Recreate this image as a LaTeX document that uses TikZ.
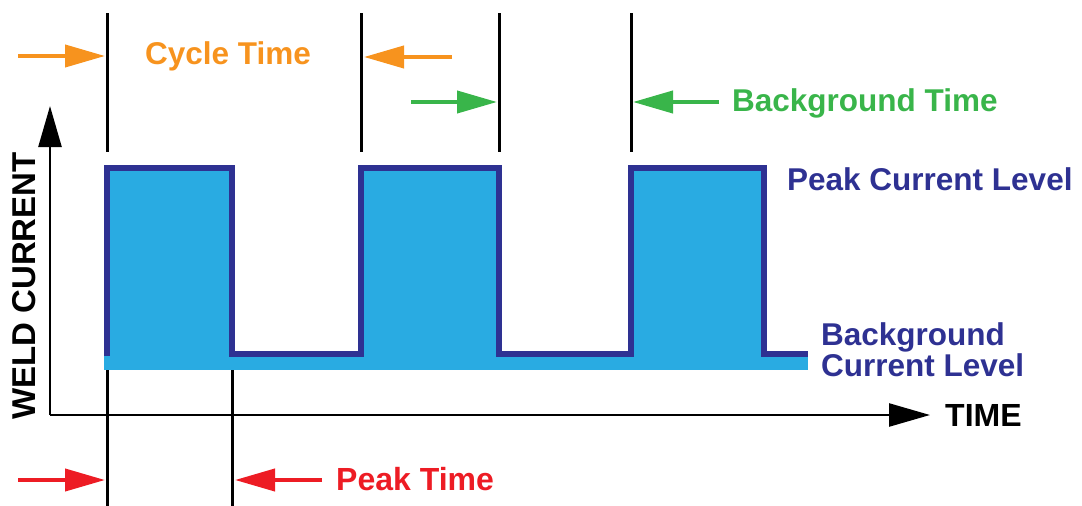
\documentclass[tikz,border=0pt]{standalone}
\usepackage{fontspec}
\setmainfont{Liberation Sans}
\usetikzlibrary{arrows.meta}
\definecolor{orangeC}{HTML}{F7931E}
\definecolor{greenC}{HTML}{39B54A}
\definecolor{redC}{HTML}{ED1C24}
\definecolor{navyC}{HTML}{2E3192}
\definecolor{skyC}{HTML}{29ABE2}
\begin{document}
\begin{tikzpicture}[x=1pt,y=-1pt,
  marker/.style={line width=3pt, black},
  dimarrow/.style={line width=4pt, -{Triangle[length=40pt,width=22pt]}},
  axisline/.style={line width=2.5pt, black, -{Triangle[length=41pt,width=23pt]}},
  lbl/.style={font=\bfseries\fontsize{31.5}{31}\selectfont, anchor=base west, inner sep=0pt, align=left},
  bluelbl/.style={lbl, navyC, font=\bfseries\fontsize{31.5}{31}\selectfont}]
\useasboundingbox (0,0) rectangle (1082,506);
% waveform fill
\fill[skyC] (104,352) rectangle (808,370);
\fill[skyC] (107,168) rectangle (232,354);
\fill[skyC] (361,168) rectangle (499,354);
\fill[skyC] (631,168) rectangle (764,354);
\draw[navyC, line width=6pt, line join=miter] (107,356) -- (107,168) -- (232,168) -- (232,353.5) -- (361,353.5) -- (361,168) -- (499,168) -- (499,353.5) -- (631,353.5) -- (631,168) -- (764,168) -- (764,353.5) -- (808,353.5);
% marker lines
\coordinate (m1t) at (107,13); \coordinate (m1b) at (107,152);
\coordinate (m2t) at (361,13); \coordinate (m2b) at (361,152);
\coordinate (m3t) at (499,13); \coordinate (m3b) at (499,152);
\coordinate (m4t) at (631,13); \coordinate (m4b) at (631,152);
\coordinate (m5t) at (107,370); \coordinate (m5b) at (107,506);
\coordinate (m6t) at (232,370); \coordinate (m6b) at (232,506);
\draw[marker] (m1t) -- (m1b);
\draw[marker] (m2t) -- (m2b);
\draw[marker] (m3t) -- (m3b);
\draw[marker] (m4t) -- (m4b);
\draw[marker] (m5t) -- (m5b);
\draw[marker] (m6t) -- (m6b);
% axes
\coordinate (origin) at (50,415);
\coordinate (ytip) at (50,106);
\coordinate (xtip) at (930,415);
\draw[axisline] (origin) -- (ytip);
\draw[axisline] (origin) -- (xtip);
% arrows
\coordinate (oa1s) at (18,56); \coordinate (oa1e) at (105,56);
\coordinate (oa2s) at (452,57); \coordinate (oa2e) at (364,57);
\coordinate (ga1s) at (411,102); \coordinate (ga1e) at (497,102);
\coordinate (ga2s) at (719,102); \coordinate (ga2e) at (633,102);
\coordinate (ra1s) at (18,480); \coordinate (ra1e) at (105,480);
\coordinate (ra2s) at (322,480); \coordinate (ra2e) at (235,480);
\draw[dimarrow, orangeC] (oa1s) -- (oa1e);
\draw[dimarrow, orangeC] (oa2s) -- (oa2e);
\draw[dimarrow, greenC] (ga1s) -- (ga1e);
\draw[dimarrow, greenC] (ga2s) -- (ga2e);
\draw[dimarrow, redC] (ra1s) -- (ra1e);
\draw[dimarrow, redC] (ra2s) -- (ra2e);
% labels
\node[lbl, orangeC] (cycle) at (145,64) {Cycle Time};
\node[lbl, greenC] (bgtime) at (732,111) {Background Time};
\node[lbl, redC, font=\bfseries\fontsize{32}{31}\selectfont] (peaktime) at (336,490) {Peak Time};
\node[bluelbl] (peaklvl) at (787,190) {Peak Current Level};
\node[bluelbl] (bglvl1) at (821,345) {Background};
\node[bluelbl] (bglvl2) at (821,376) {Current Level};
\node[lbl, black, font=\bfseries\fontsize{32}{32}\selectfont] (time) at (945,426) {TIME};
\node[lbl, black, font=\bfseries\fontsize{33}{32}\selectfont, rotate=90] (weld) at (35,420) {WELD CURRENT};
\end{tikzpicture}
\end{document}
